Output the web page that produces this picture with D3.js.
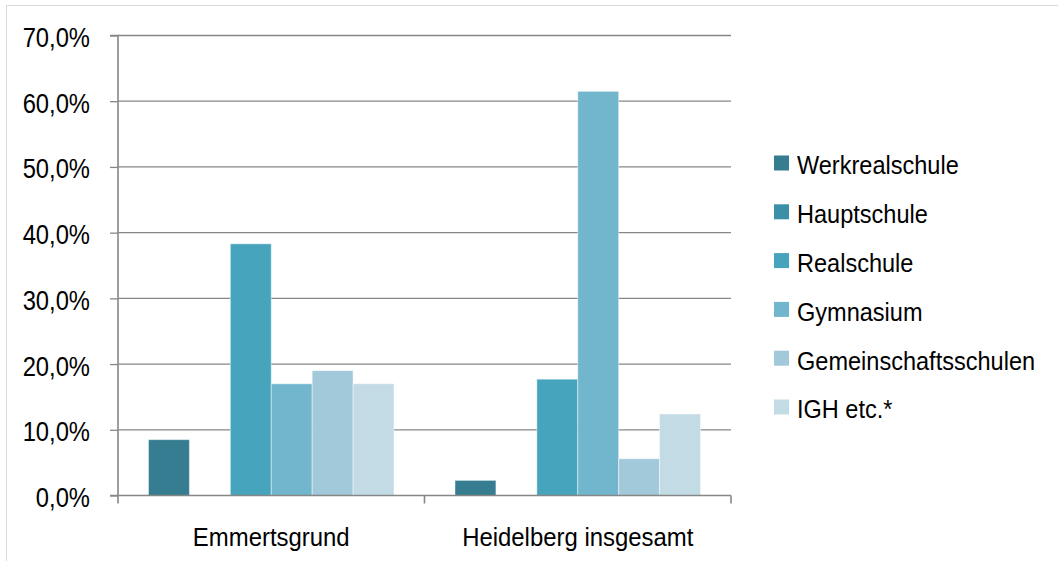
<!DOCTYPE html>
<html>
<head>
<meta charset="utf-8">
<script src="https://cdn.jsdelivr.net/npm/d3@7/dist/d3.min.js"></script>
<style>
  html, body { margin: 0; padding: 0; background: #fff; }
  svg text { font-family: "Liberation Sans", Arial, sans-serif; fill: #000; }
</style>
</head>
<body>
<svg id="chart" width="1058" height="561"></svg>
<script>
// Schulübergänge nach Schulart, Anteile in Prozent
const categories = ["Emmertsgrund", "Heidelberg insgesamt"];
const seriesNames = ["Werkrealschule", "Hauptschule", "Realschule", "Gymnasium", "Gemeinschaftsschulen", "IGH etc.*"];
const emmertsgrund = [8.5, 0, 38.3, 17.0, 19.0, 17.0];
const heidelberg = [2.3, 0, 17.7, 61.5, 5.6, 12.4];
const yTicks = [0, 10, 20, 30, 40, 50, 60, 70];
const colors = ["#367d91", "#3b8fa7", "#47a4bd", "#71b6cc", "#a1c9d9", "#c2dbe4"];

const values = [emmertsgrund, heidelberg];

const svg = d3.select("#chart");
const W = 1058, H = 561;
const plot = { left: 118, right: 731, top: 35.5, bottom: 495.5 };

// condensed lettering: horizontal squeeze applied to the sans font
const tickSX = 0.88, labelSX = 0.92;

// outer frame
svg.append("path")
  .attr("d", `M6.5,${H} V5.5 H${W}`)
  .attr("fill", "none")
  .attr("stroke", "#d9d9d9")
  .attr("stroke-width", 1);

const y = d3.scaleLinear().domain([0, 70]).range([plot.bottom, plot.top]);
const x0 = d3.scaleBand().domain(categories).range([plot.left, plot.right]).paddingInner(0).paddingOuter(0);
const groupPad = 30.5;
const x1 = d3.scaleBand().domain(seriesNames).range([groupPad, x0.bandwidth() - groupPad]).padding(0);

const fmt = v => d3.format(".1f")(v).replace(".", ",") + "%";

// horizontal gridlines
svg.append("g")
  .selectAll("line")
  .data(yTicks.filter(t => t > 0))
  .join("line")
  .attr("x1", plot.left)
  .attr("x2", plot.right)
  .attr("y1", d => y(d))
  .attr("y2", d => y(d))
  .attr("stroke", "#878787")
  .attr("stroke-width", 1.3);

// bars
const groups = svg.append("g")
  .selectAll("g")
  .data(categories)
  .join("g")
  .attr("transform", d => `translate(${x0(d)},0)`);

groups.selectAll("rect")
  .data((d, i) => seriesNames.map((s, j) => ({ s, v: values[i][j], c: colors[j] })).filter(e => e.v > 0))
  .join("rect")
  .attr("x", d => x1(d.s))
  .attr("width", x1.bandwidth())
  .attr("y", d => y(d.v))
  .attr("height", d => y(0) - y(d.v))
  .attr("fill", d => d.c)
  .attr("stroke", "rgba(255,255,255,0.45)")
  .attr("stroke-width", 1);

// y axis
const yAxis = d3.axisLeft(y).tickValues(yTicks).tickSize(8).tickFormat(fmt);
const gy = svg.append("g").attr("transform", `translate(${plot.left},0)`).call(yAxis);
gy.select(".domain").attr("stroke", "#878787").attr("stroke-width", 1.6).attr("d", `M-8,${plot.top}H0V${plot.bottom}H-8`);
gy.selectAll(".tick line").attr("stroke", "#878787").attr("stroke-width", 1.3);
gy.selectAll(".tick text")
  .attr("font-size", 27)
  .attr("dy", null)
  .attr("y", 11)
  .attr("x", -28 / tickSX)
  .attr("transform", `scale(${tickSX},1)`);

// x axis
const xAxis = d3.axisBottom(x0).tickSize(0);
const gx = svg.append("g").attr("transform", `translate(0,${plot.bottom})`).call(xAxis);
gx.select(".domain").attr("stroke", "#878787").attr("stroke-width", 1.6)
  .attr("d", `M${plot.left},0H${plot.right}`);
gx.selectAll(".tick text")
  .attr("font-size", 26)
  .attr("dy", null)
  .attr("y", 50.5)
  .attr("transform", `scale(${labelSX},1)`);

// category separators
svg.append("g")
  .selectAll("line")
  .data([plot.left, x0(categories[1]), plot.right])
  .join("line")
  .attr("x1", d => d).attr("x2", d => d)
  .attr("y1", plot.bottom).attr("y2", plot.bottom + 8)
  .attr("stroke", "#878787").attr("stroke-width", 1.6);

// legend
const legend = svg.append("g").attr("transform", "translate(774,163)");
const li = legend.selectAll("g")
  .data(seriesNames)
  .join("g")
  .attr("transform", (d, i) => `translate(0,${i * 48.8})`);
li.append("rect")
  .attr("x", 0).attr("y", -7.5)
  .attr("width", 15).attr("height", 15)
  .attr("fill", (d, i) => colors[i]);
li.append("text")
  .attr("x", 23 / labelSX)
  .attr("y", 11.3)
  .attr("font-size", 25.6)
  .attr("transform", `scale(${labelSX},1)`)
  .text(d => d);
</script>
</body>
</html>
